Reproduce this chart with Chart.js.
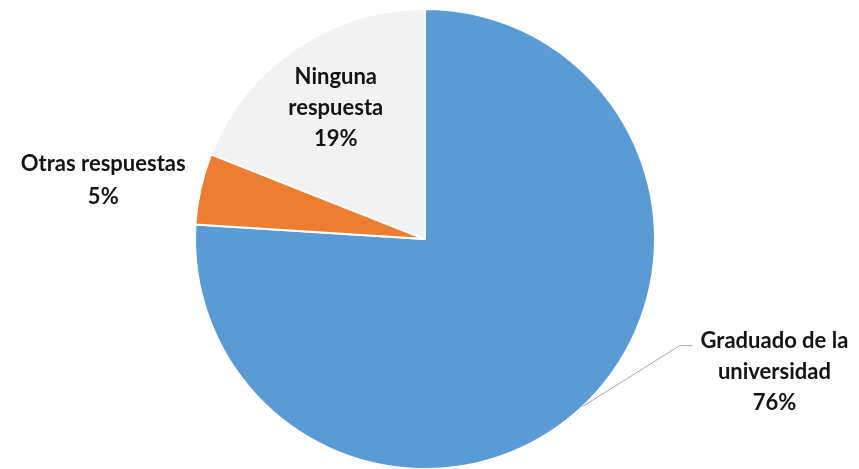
<!DOCTYPE html>
<html lang="es">
  <head>
    <meta charset="UTF-8" />
    <title>Pie chart</title>
    <script src="https://cdn.jsdelivr.net/npm/chart.js"></script>
    <style>
      html, body { margin: 0; padding: 0; background: #fff; overflow: hidden; }
      #wrap { position: relative; width: 859px; height: 480px; }
    </style>
  </head>
  <body>
    <div id="wrap"><canvas id="pieChart"></canvas></div>
    <script>
      // data
      const categories = ["Graduado de la universidad", "Otras respuestas", "Ninguna respuesta"];
      const values = [76, 5, 19];
      const labelLines = [
        ["Graduado de la", "universidad", "76%"],
        ["Otras respuestas", "5%"],
        ["Ninguna", "respuesta", "19%"]
      ];
      const colors = ["#5B9BD5", "#ED7D31", "#F2F2F2"];

      // label placement: factor of radius along mid angle, plus small nudge
      const labelRadius = [null, 1.42, 0.69];
      const labelNudge = [[0, 0], [-3, 13], [0, 0]];

      const labelPlugin = {
        id: "pieLabels",
        afterDatasetsDraw(chart) {
          const ctx = chart.ctx;
          const arcs = chart.getDatasetMeta(0).data;
          ctx.save();
          ctx.font = "bold 22px Lato, 'Open Sans', sans-serif";
          ctx.fillStyle = "#141414";
          ctx.textAlign = "center";
          ctx.textBaseline = "middle";
          arcs.forEach((arc, i) => {
            const p = arc.getProps(["x", "y", "startAngle", "endAngle", "outerRadius"], true);
            const mid = (p.startAngle + p.endAngle) / 2;
            let cx, cy, lh = 31;
            if (labelRadius[i] === null) {
              // leader line from edge of slice
              const sx = p.x + Math.cos(mid) * p.outerRadius;
              const sy = p.y + Math.sin(mid) * p.outerRadius;
              const ex = sx + 97, ey = sy - 61;
              ctx.beginPath();
              ctx.strokeStyle = "#a6a6a6";
              ctx.lineWidth = 1;
              ctx.moveTo(sx, sy);
              ctx.lineTo(ex, ey);
              ctx.lineTo(ex + 13, ey);
              ctx.stroke();
              cx = ex + 95;
              cy = ey + 26;
            } else {
              cx = p.x + Math.cos(mid) * p.outerRadius * labelRadius[i];
              cy = p.y + Math.sin(mid) * p.outerRadius * labelRadius[i];
              if (i === 1) lh = 33;
            }
            cx += labelNudge[i][0];
            cy += labelNudge[i][1];
            const lines = labelLines[i];
            const top = cy - (lines.length - 1) * lh / 2;
            lines.forEach((t, k) => ctx.fillText(t, cx, top + k * lh));
          });
          ctx.restore();
        }
      };

      new Chart(document.getElementById("pieChart"), {
        type: "pie",
        data: {
          labels: categories,
          datasets: [{
            data: values,
            backgroundColor: colors,
            borderColor: "#ffffff",
            borderWidth: 2,
            hoverOffset: 0
          }]
        },
        options: {
          responsive: true,
          maintainAspectRatio: false,
          animation: false,
          layout: { padding: { top: 8, bottom: 10, left: 0, right: 9 } },
          plugins: {
            legend: { display: false },
            tooltip: { enabled: false }
          }
        },
        plugins: [labelPlugin]
      });
    </script>
  </body>
</html>
